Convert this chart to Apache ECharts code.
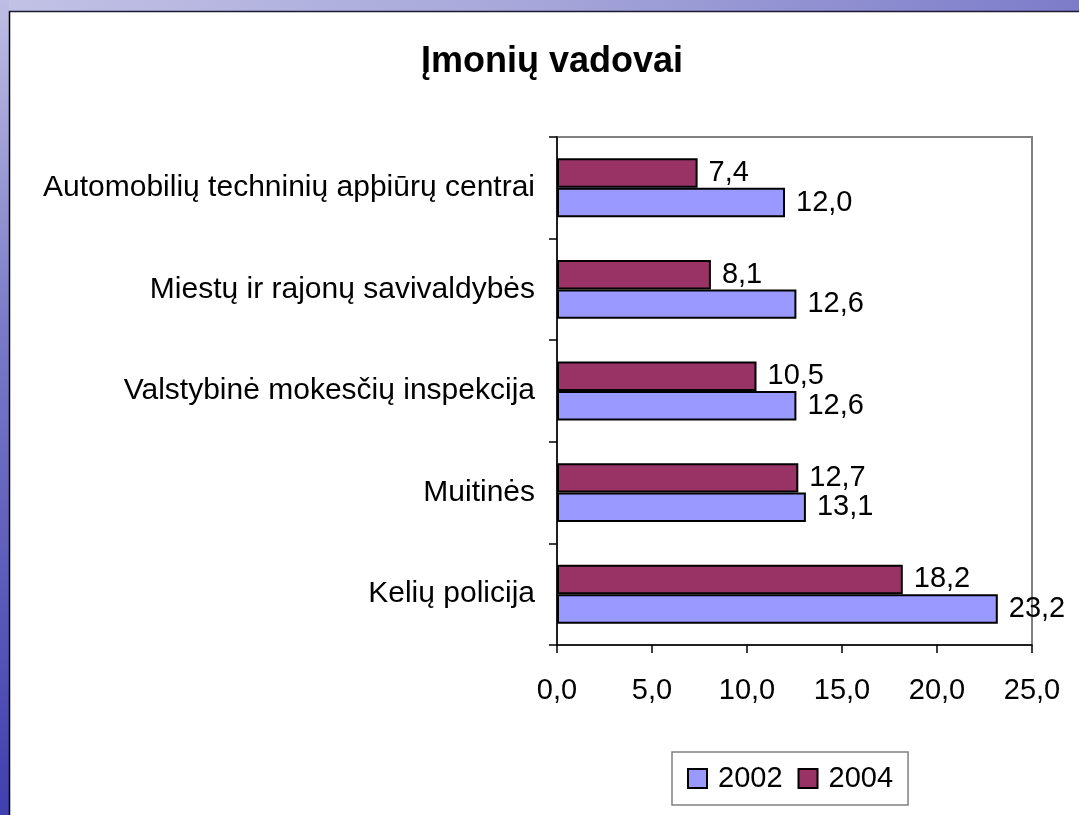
<!DOCTYPE html>
<html>
<head>
<meta charset="utf-8">
<script src="https://cdn.jsdelivr.net/npm/echarts@6/dist/echarts.min.js"></script>
<style>
html,body{margin:0;padding:0;background:#fff;}
#chart{width:1079px;height:815px;}
</style>
</head>
<body>
<div id="chart"></div>
<script>
// Data (categories listed bottom-to-top as on the axis)
const categories = [
  'Kelių policija',
  'Muitinės',
  'Valstybinė mokesčių inspekcija',
  'Miestų ir rajonų savivaldybės',
  'Automobilių techninių apþiūrų centrai'
];
const values2002 = [23.2, 13.1, 12.6, 12.6, 12.0];
const values2004 = [18.2, 12.7, 10.5, 8.1, 7.4];
const seriesNames = ['2002', '2004'];
const titleText = 'Įmonių vadovai';

const FONT = "'Liberation Sans', Arial, sans-serif";
const fmt = v => Number(v).toFixed(1).replace('.', ',');

const chart = echarts.init(document.getElementById('chart'), null, {renderer: 'canvas'});

const labelStyle = {
  show: true, position: 'right', distance: 11,
  fontFamily: FONT, fontSize: 29, color: '#000',
  formatter: p => fmt(p.value)
};

chart.setOption({
  backgroundColor: '#ffffff',
  animation: false,
  textStyle: {fontFamily: FONT},
  graphic: [
    {type: 'rect', z: -10, shape: {x: 0, y: 0, width: 1079, height: 11},
     style: {fill: new echarts.graphic.LinearGradient(0, 0, 1, 0, [
       {offset: 0, color: '#c2c2e6'}, {offset: 0.5, color: '#a6a6da'}, {offset: 1, color: '#7c7cca'}])}},
    {type: 'rect', z: -10, shape: {x: 0, y: 0, width: 9, height: 815},
     style: {fill: new echarts.graphic.LinearGradient(0, 0, 0, 1, [
       {offset: 0, color: '#bebee4'}, {offset: 0.4, color: '#7a7ac8'}, {offset: 1, color: '#4040b0'}])}},
    {type: 'line', shape: {x1: 9.5, y1: 11, x2: 9.5, y2: 815}, style: {stroke: '#000', lineWidth: 1.5}},
    {type: 'line', shape: {x1: 9, y1: 11.5, x2: 1079, y2: 11.5}, style: {stroke: '#1a1a30', lineWidth: 1.5}}
  ],
  title: {
    text: titleText,
    left: 552, top: 44, padding: 0,
    textAlign: 'center',
    textStyle: {fontFamily: FONT, fontSize: 36, fontWeight: 'bold', color: '#000'}
  },
  legend: {
    data: seriesNames,
    left: 672, top: 752,
    padding: [12, 15, 12, 15],
    borderColor: '#808080', borderWidth: 1.5,
    backgroundColor: '#fff',
    icon: 'rect', itemWidth: 19, itemHeight: 19, itemGap: 15,
    textStyle: {fontFamily: FONT, fontSize: 29, color: '#000', padding: [0, 0, 0, 6]}
  },
  grid: {
    left: 557, right: 47, top: 137, bottom: 170,
    show: true, borderColor: '#808080', borderWidth: 2, backgroundColor: 'transparent'
  },
  xAxis: {
    type: 'value', min: 0, max: 25, interval: 5,
    axisLine: {show: true, lineStyle: {color: '#000', width: 1.5}},
    axisTick: {show: true, length: 8, lineStyle: {color: '#000', width: 1.5}},
    splitLine: {show: false},
    axisLabel: {fontFamily: FONT, fontSize: 29, color: '#000', margin: 31, formatter: v => fmt(v)}
  },
  yAxis: {
    type: 'category', data: categories,
    axisLine: {show: true, lineStyle: {color: '#000', width: 1.5}},
    axisTick: {show: true, length: 8, lineStyle: {color: '#000', width: 1.5}},
    axisLabel: {fontFamily: FONT, fontSize: 30, color: '#000', margin: 22}
  },
  series: [
    {
      name: '2004', type: 'bar', data: values2004,
      barGap: '0%', barCategoryGap: '42%',
      itemStyle: {color: '#993366', borderColor: '#000', borderWidth: 2},
      label: labelStyle
    },
    {
      name: '2002', type: 'bar', data: values2002,
      barGap: '0%', barCategoryGap: '42%',
      itemStyle: {color: '#9999FF', borderColor: '#000', borderWidth: 2},
      label: labelStyle
    }
  ]
});
</script>
</body>
</html>
